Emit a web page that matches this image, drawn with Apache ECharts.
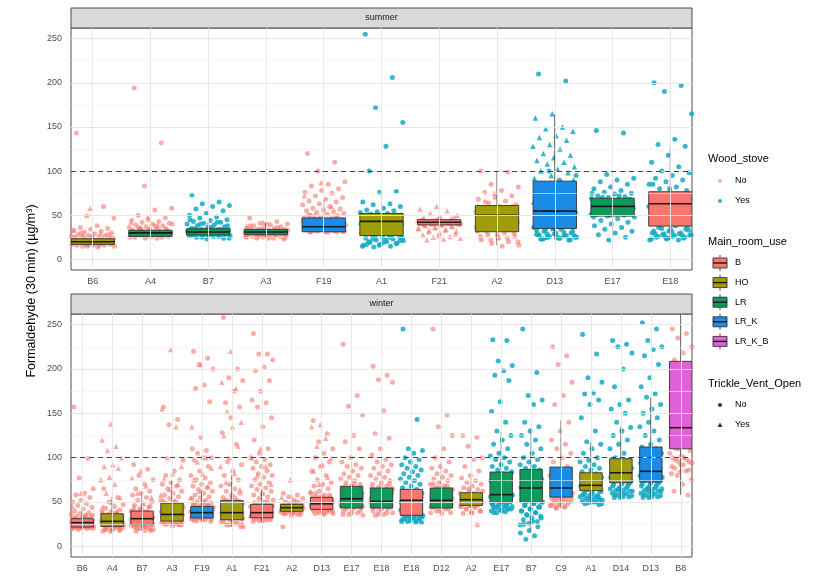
<!DOCTYPE html>
<html>
<head>
<meta charset="utf-8">
<script src="https://cdn.jsdelivr.net/npm/echarts@6/dist/echarts.min.js"></script>
<style>
  html, body { margin: 0; padding: 0; background: #fff; }
  #chart { width: 817px; height: 578px; }
</style>
</head>
<body>
<div id="chart"></div>
<script>
// ---------- summer panel ----------
const summerCats  = ['B6','A4','B7','A3','F19','A1','F21','A2','D13','E17','E18'];
const summerStove = ['No','No','Yes','No','No','Yes','No','No','Yes','Yes','Yes'];
const summerRoom  = ['HO','LR','LR','LR','LR_K','HO','B','HO','LR_K','LR','B'];
const summerLo  = [13, 22, 24, 24, 31, 14, 35, 16, 23, 24.5, 22];
const summerQ1  = [17, 26, 27.5, 28, 31.3, 27, 39, 31.3, 35, 49, 37.7];
const summerMed = [20, 30, 31, 31, 37, 43, 42, 50, 54.7, 60, 63];
const summerQ3  = [23.4, 33, 34.7, 34, 47, 52, 45, 61, 88.6, 69.3, 76.6];
const summerHi  = [31, 40, 42, 42, 68, 76.6, 50, 100, 164, 90.5, 128];
// readings with the trickle vent closed (circles) / open (triangles)
const summerVentNo = [
  [143,60,49,47,38,36,35,34,33,32,31,30,29,28,27,27,26,25,25,24,24,23,22,22,21,21,20,20,19,19,18,18,17,17,16,16,15,15,14,
   30,28,26,25,24,23,22,21,20,19,18,17,16,15,22,21,20,19,18,24],
  [194,132,83,58,56,50,47,45,44,43,42,41,40,39,38,37,36,35,34,33,33,32,31,31,30,30,29,29,28,28,27,27,26,26,25,25,24,
   40,38,36,35,34,33,32,31,30,29,28,27,26,25,24,35,32,30,28,26],
  [73,65,63,61,60,57,55,52,50,48,47,45,44,43,42,41,40,39,38,37,36,35,34,34,33,33,32,32,31,31,30,30,29,29,28,28,27,27,26,25,24,23,
   45,42,40,38,36,35,34,33,32,31,30,29,28,27,26,25,24,35,33,31,29,27],
  [47,43,41,40,39,38,37,36,35,35,34,34,33,33,32,32,31,31,30,30,29,29,28,28,27,27,26,26,25,25,24,24,23,
   40,38,36,34,33,32,31,30,29,28,27,26,25,24,33,30,28,26],
  [120,110,100,88,85,83,80,78,76,75,72,70,68,66,65,63,62,60,58,57,56,55,54,53,52,51,50,49,48,47,46,45,44,43,42,41,40,39,38,37,36,35,34,33,33,32,32,31,31,
   45,43,41,39,37,35,34,33,32,32,31,31,40,38,36,34,33,32,31,50,48,46],
  [255,206,172,155,128,100,77,76,65,63,62,60,58,56,55,54,53,52,51,50,48,46,44,42,40,38,36,34,32,30,28,27,26,25,24,23,22,21,20,19,18,17,16,15,14,
   50,48,46,44,42,40,38,36,34,32,30,28,26,24,22,20,18,16,15,25,23,21,19,17],
  [45,43,41,40],
  [100,99,85,82,78,76,72,70,68,66,64,62,60,58,56,55,54,52,50,48,47,46,45,44,42,40,38,36,34,32,30,28,26,24,22,20,18,16,15,
   65,60,55,52,50,48,46,44,42,40,38,36,34,32,30,28,26,24,22,20],
  [210,202,100,95,90,85,80,75,70,65,60,55,50,45,40,38,36,34,32,30,29,28,27,26,25,24,23,22,
   40,38,36,34,32,30,28,27,26,25,24,23,22,35,33,31,29,27,25,23],
  [146,143,96,92,90,88,85,82,80,78,76,75,74,72,71,70,69,68,67,66,65,64,63,62,61,60,59,58,57,56,55,54,53,52,51,50,49,48,46,44,42,40,38,36,34,32,30,28,25,22,
   75,72,70,68,66,64,62,60,58,56,54,52,50,48,65,63,61,59,57,55,53,51],
  [200,197,190,165,136,130,128,118,110,105,100,98,95,92,90,88,85,82,80,78,76,74,72,70,68,66,64,62,60,58,56,54,52,50,48,45,42,40,38,36,34,32,30,29,28,27,26,25,24,23,22,
   40,38,36,34,32,30,29,28,27,26,25,24,23,22,35,33,31,29,27,25,60,65,70,75,80,85]
];
const summerVentYes = [
  [58,33,30,28,26,23,21,19,17,16],
  [48,42,38,35,32,29,27],
  [],
  [42,38,33,29,26],
  [87,72,60,50,45,40,36,33],
  [],
  [60,57,55,52,50,48,47,46,45,44,43,43,42,42,41,41,40,40,39,38,37,36,35,34,33,32,30,28,26,25,24,23,22,
   48,46,44,43,42,41,40,39,38,36,35,33,31,29,27],
  [75,60,50,42,35,25],
  [165,160,150,148,145,140,138,135,130,128,125,120,118,115,112,110,108,105,102,100,98,95,92,88,85,80,75,70,65,60,55,50,45,40,35,30,27,25,
   90,85,80,75,70,65,60,55,50],
  [],
  []
];

// ---------- winter panel ----------
const winterCats  = ['B6','A4','B7','A3','F19','A1','F21','A2','D13','E17','E18','E18','D12','A2','E17','B7','C9','A1','D14','D13','B8'];
const winterStove = ['No','No','No','No','No','No','No','No','No','No','No','Yes','No','No','Yes','Yes','No','Yes','Yes','Yes','No'];
const winterRoom  = ['B','HO','B','HO','LR_K','HO','B','HO','B','LR','LR','B','LR','HO','LR','LR','LR_K','HO','HO','LR_K','LR_K_B'];
const winterLo  = [19.5, 17, 17.5, 24, 28, 22, 28, 35, 36, 35, 35, 27, 37, 37, 38, 16, 43, 47, 55, 55, 58];
const winterQ1  = [21.8, 22.5, 24.4, 28.5, 32, 30, 32.3, 39.5, 41.7, 43.2, 43.2, 35, 43.2, 46.2, 49.2, 49.2, 55.6, 62.8, 71.8, 72.5, 110];
const winterMed = [26.7, 28.2, 31.2, 36, 38, 38, 38, 43.6, 48, 53.7, 50.7, 51.9, 51.9, 52.6, 58.3, 65.8, 65.8, 68.8, 83, 84.6, 133.8];
const winterQ3  = [31.2, 36.8, 39.8, 48.8, 45, 51.8, 47.3, 47.3, 55.2, 67.6, 65.8, 64.3, 65.8, 60.5, 83.8, 86.8, 89.4, 83, 98.8, 112, 208.6];
const winterHi  = [40, 55.6, 61, 74.4, 64, 80, 64, 57.5, 72.5, 95, 97, 108, 95, 77, 129, 133, 142, 117.6, 134.5, 168, 270];
const winterVentNo = [
  [157,99,77,65,60,58,55,52,50,48,46,44,42,40,38,37,36,35,34,33,32,31,30,30,29,29,28,28,27,27,26,26,25,25,24,24,23,23,22,22,21,21,20,20,19,
   35,33,31,30,29,28,27,26,25,24,23,22,21,20,32,28,26,24,22],
  [65,55,50,47,45,43,41,39,37,36,35,34,33,32,31,30,29,28,27,26,25,24,23,22,21,20,19,18,17,
   40,38,36,34,32,30,28,26,24,22,20,19,18,17,33,29,27,25,23,21],
  [92,87,80,75,70,65,62,60,58,55,52,50,48,46,44,42,40,39,38,37,36,35,34,33,32,31,30,29,28,27,26,25,24,23,22,21,20,19,18,17,
   45,42,40,38,36,34,32,30,28,26,24,22,20,18,35,31,29,27,25,23],
  [157,143,137,97,85,80,75,72,70,68,65,62,60,58,56,54,52,50,48,46,44,42,40,38,36,34,32,30,28,27,26,25,24,23,
   50,48,46,44,42,40,38,36,34,32,30,28,26,25,24,45,39,35,31,29],
  [220,212,205,200,182,178,163,123,110,108,105,100,100,97,90,85,80,77,75,72,70,68,66,64,62,60,58,56,55,54,52,50,49,48,47,46,45,44,43,42,41,40,39,38,37,36,35,34,33,32,31,30,29,28,
   50,48,46,44,42,40,38,36,35,34,33,32,31,30,29,45,41,39,37,35,33],
  [258,200,190,187,175,162,157,145,128,115,95,92,85,80,75,70,68,65,62,60,58,55,52,50,48,46,44,42,40,38,36,34,32,30,28,26,24,22,
   55,52,50,48,45,42,40,38,36,34,32,30,28,26,24,22,47,43,39,35,31],
  [240,217,217,210,202,198,187,175,165,162,157,145,135,120,110,105,100,98,95,92,90,88,85,82,80,78,75,72,70,68,66,64,62,60,58,56,54,52,50,48,46,44,42,40,39,38,37,36,35,34,33,32,31,30,29,28,
   50,48,46,44,42,40,38,36,35,34,33,32,31,30,29,45,41,39,37,35],
  [60,58,56,54,52,50,49,48,47,46,45,44,43,42,41,40,39,38,37,36,35,22,
   50,48,47,46,45,44,43,42,41,40,39,38,37,36,44,43,42],
  [142,127,118,110,105,100,95,90,85,80,75,72,70,68,65,62,60,58,56,55,54,53,52,51,50,49,48,47,46,45,44,43,42,41,40,39,38,37,36,
   60,58,56,55,54,53,52,51,50,49,48,47,46,45,44,43,42,41,40,39,38,37],
  [228,170,158,148,125,118,110,100,95,92,90,88,85,82,80,78,76,74,72,70,68,66,64,62,60,58,56,54,52,50,48,46,44,42,40,38,36,35,
   70,68,66,64,62,60,58,56,54,52,50,48,46,44,42,40,38,36,65,55,45],
  [203,193,188,185,153,127,122,110,103,98,95,92,90,88,85,82,80,78,76,74,72,70,68,66,64,62,60,58,56,54,52,50,48,46,44,42,40,38,36,35,
   70,68,66,64,62,60,58,56,54,52,50,48,46,44,42,40,38,36,65,55,45],
  [245,143,110,108,105,100,98,95,92,90,88,86,84,82,80,78,76,74,72,70,68,66,64,62,60,58,56,54,52,50,48,46,44,42,40,38,36,35,34,33,32,31,30,29,28,27,
   45,44,43,42,41,40,39,38,37,36,35,34,33,32,31,30,29,28,27,50,55,60],
  [245,148,135,125,110,100,95,90,88,85,82,80,78,76,74,72,70,68,66,64,62,60,58,56,54,52,50,48,46,44,42,40,38,37,
   70,68,66,64,62,60,58,56,54,52,50,48,46,44,42,40,38,65,55,45],
  [125,123,113,100,98,90,85,80,77,74,72,70,68,66,64,62,60,58,56,55,54,53,52,51,50,49,48,47,46,45,44,42,40,38,37,24,
   65,62,60,58,56,54,53,52,51,50,49,48,47,46,45,44,42,40,38],
  [233,232,209,204,198,193,187,163,152,140,130,125,120,115,110,105,102,100,98,95,92,90,88,86,84,82,80,78,76,74,72,70,68,66,64,62,60,58,56,54,52,50,48,46,44,42,40,38,
   60,58,56,54,52,50,49,48,47,46,45,44,43,42,41,40,39,38,55,50,45,42],
  [245,196,170,165,160,140,135,130,125,120,115,110,105,100,98,95,92,90,88,86,84,82,80,78,76,74,72,70,68,66,64,62,60,58,56,54,52,50,48,46,44,42,40,38,35,32,28,25,22,18,15,12,8,
   60,58,56,54,52,50,48,46,44,42,40,38,36,34,32,30,28,26,24,55,50,45],
  [225,215,205,185,170,160,140,130,120,115,110,105,100,95,90,85,80,75,70,66,62,60,58,56,55,54,52,50,48,46,44,43,
   70,68,66,64,62,60,58,57,56,55,54,53,52,51,50,49,48,47,46,45,44],
  [239,217,190,185,173,172,165,160,145,130,118,115,110,105,100,97,95,92,90,88,86,84,82,80,78,76,74,72,70,68,66,64,62,60,58,56,54,52,50,48,47,
   70,68,66,64,62,60,59,58,57,56,55,54,53,52,51,50,49,48,65,60,55],
  [232,228,225,218,200,180,165,160,155,150,140,134,130,125,120,115,110,105,100,98,96,94,92,90,88,86,84,82,80,78,76,74,72,70,68,66,64,62,60,58,56,55,
   80,78,76,74,72,70,68,66,65,64,63,62,61,60,59,58,57,56,55,70,65],
  [252,245,232,225,222,215,205,190,180,172,168,160,155,150,145,140,135,130,125,120,115,112,110,108,105,102,100,98,96,94,92,90,88,86,84,82,80,78,76,74,72,70,68,66,64,62,60,58,56,55,
   80,78,76,74,72,70,68,66,65,64,63,62,61,60,59,58,57,56,55,70,65],
  [245,240,235,225,218,210,200,190,180,170,160,150,140,130,120,110,105,100,98,95,92,90,85,80,75,70,62,58,
   130,125,115,110,108,102,100,98,96,94,92,88,86,84,82]
];
const winterVentYes = [
  [60,45,35,30,27,24,22],
  [138,120,113,108,100,92,90,88,78,75,70,60,55,50,45,40,35,30,25,20],
  [85,77,68,60,55,48,44,40,36,32,28,24,20],
  [222,155,135,100,90,82,76,70,64,58,52,46,40,35,30,26],
  [205,135,100,95,88,82,75,68,62,55,50,45,40,36,32],
  [220,185,178,152,140,135,125,113,100,90,82,72,64,56,48,40,33,27],
  [110,100,90,80,70,60,50,45,40,35,30],
  [75,55,50,45,42,40,38],
  [137,135,122,113,100,92,85,78,70,62,55,48,42],
  [],[],[],[],[],[],[],[],[],[],[],[]
];

// shared scale pieces
const yTicks = [0, 50, 100, 150, 200, 250];
const yMinor = [25, 75, 125, 175, 225];
const guideline = 100;
const roomNames = ['B', 'HO', 'LR', 'LR_K', 'LR_K_B'];
const roomColors = { B: '#F8766D', HO: '#A09C0A', LR: '#0E9A5A', LR_K: '#1C8BE3', LR_K_B: '#E062D8' };
const stoveColors = { No: '#F8766D', Yes: '#14A9C4' };

const Y_MIN = -12, Y_MAX = 262, HALF = 0.375;
const panels = [
  { name: 'summer', top: 28, height: 242, cats: summerCats, stove: summerStove, room: summerRoom,
    lo: summerLo, q1: summerQ1, med: summerMed, q3: summerQ3, hi: summerHi, no: summerVentNo, yes: summerVentYes },
  { name: 'winter', top: 314, height: 243, cats: winterCats, stove: winterStove, room: winterRoom,
    lo: winterLo, q1: winterQ1, med: winterMed, q3: winterQ3, hi: winterHi, no: winterVentNo, yes: winterVentYes }
];
const GRID_LEFT = 71, GRID_W = 621;
const font = 'Liberation Sans, Arial, sans-serif';

// spread points sideways inside each category (low-discrepancy sequence)
function spread(k, shift) {
  const f = (k * 0.618034 + shift) % 1;
  return (f - 0.5) * 0.76;
}

const grids = [], xAxes = [], yAxes = [], series = [], graphics = [];

panels.forEach((p, g) => {
  const n = p.cats.length;
  grids.push({ left: GRID_LEFT, top: p.top, width: GRID_W, height: p.height,
    show: true, borderColor: '#4d4d4d', borderWidth: 1, backgroundColor: 'transparent' });
  xAxes.push({
    type: 'value', gridIndex: g, min: -HALF, max: n - 1 + HALF,
    axisLine: { show: false }, splitLine: { show: false },
    axisTick: { show: true, customValues: p.cats.map((_, i) => i), length: 3, lineStyle: { color: '#4d4d4d' } },
    axisLabel: { customValues: p.cats.map((_, i) => i), formatter: v => p.cats[Math.round(v)],
      color: '#4D4D4D', fontSize: 9, margin: 7, fontFamily: font }
  });
  yAxes.push({
    type: 'value', gridIndex: g, min: Y_MIN, max: Y_MAX,
    axisLine: { show: false }, splitLine: { show: false },
    axisTick: { show: true, customValues: yTicks, length: 3, lineStyle: { color: '#4d4d4d' } },
    axisLabel: { customValues: yTicks, color: '#4D4D4D', fontSize: 9, margin: 9, fontFamily: font }
  });

  // panel grid lines
  series.push({
    type: 'line', xAxisIndex: g, yAxisIndex: g, data: [], z: 1, silent: true,
    markLine: {
      silent: true, symbol: ['none', 'none'], label: { show: false }, animation: false,
      data: [
        ...yMinor.map(v => ({ yAxis: v, lineStyle: { color: '#F3F3F3', width: 0.6, type: 'solid' } })),
        ...yTicks.map(v => ({ yAxis: v, lineStyle: { color: '#E6E6E6', width: 0.9, type: 'solid' } })),
        ...p.cats.map((_, i) => ({ xAxis: i, lineStyle: { color: '#E6E6E6', width: 0.9, type: 'solid' } }))
      ]
    }
  });

  // jittered readings: stove colour x vent shape
  ['No', 'Yes'].forEach((st) => {
    [['circle', p.no], ['triangle', p.yes]].forEach(([shape, sets], hi) => {
      const pts = [];
      sets.forEach((vals, i) => {
        if (p.stove[i] !== st) return;
        vals.forEach((v, k) => pts.push([i + spread(k, hi * 0.31 + 0.13), v]));
      });
      series.push({
        type: 'scatter', xAxisIndex: g, yAxisIndex: g, z: 2, silent: true,
        symbol: shape, symbolSize: shape === 'circle' ? 5 : 5.5,
        itemStyle: { color: stoveColors[st], opacity: st === 'No' ? 0.6 : 0.85 },
        data: pts
      });
    });
  });

  // boxes
  series.push({
    type: 'custom', xAxisIndex: g, yAxisIndex: g, z: 3, clip: true, silent: true,
    data: p.cats.map((_, i) => [i, p.lo[i], p.q1[i], p.med[i], p.q3[i], p.hi[i]]),
    renderItem: (params, api) => {
      const i = api.value(0);
      const lo = api.coord([i, api.value(1)]);
      const q1 = api.coord([i, api.value(2)]);
      const md = api.coord([i, api.value(3)]);
      const q3 = api.coord([i, api.value(4)]);
      const hi = api.coord([i, api.value(5)]);
      const w = api.size([0.75, 0])[0];
      const x = md[0];
      const col = roomColors[p.room[params.dataIndex]];
      const ln = { stroke: '#333', lineWidth: 0.9 };
      return { type: 'group', children: [
        { type: 'line', shape: { x1: x, y1: hi[1], x2: x, y2: q3[1] }, style: ln },
        { type: 'line', shape: { x1: x, y1: q1[1], x2: x, y2: lo[1] }, style: ln },
        { type: 'rect', shape: { x: x - w / 2, y: q3[1], width: w, height: q1[1] - q3[1] },
          style: { fill: col, stroke: '#333', lineWidth: 0.9 } },
        { type: 'line', shape: { x1: x - w / 2, y1: md[1], x2: x + w / 2, y2: md[1] },
          style: { stroke: '#1a1a1a', lineWidth: 1.6 } }
      ]};
    }
  });

  // guideline at 100
  series.push({
    type: 'line', xAxisIndex: g, yAxisIndex: g, data: [], z: 4, silent: true,
    markLine: { silent: true, symbol: ['none', 'none'], label: { show: false }, animation: false,
      data: [{ yAxis: guideline, lineStyle: { color: '#444', width: 1, type: [5, 4] } }] }
  });

  // facet strip
  graphics.push({ type: 'rect', shape: { x: GRID_LEFT, y: p.top - 20, width: GRID_W, height: 20 },
    style: { fill: '#D9D9D9', stroke: '#4d4d4d', lineWidth: 1 } });
  graphics.push({ type: 'text', x: GRID_LEFT + GRID_W / 2, y: p.top - 10,
    style: { text: p.name, fill: '#1A1A1A', fontSize: 9, align: 'center', verticalAlign: 'middle', fontFamily: font } });
});

// y-axis title
graphics.push({ type: 'text', x: 32, y: 291, rotation: Math.PI / 2,
  style: { text: 'Formaldehyde (30 min) (µg/m³)', fill: '#000', fontSize: 12.5, align: 'center',
    verticalAlign: 'middle', fontFamily: font } });

// legends
const LX = 708;
function title(t, y) {
  graphics.push({ type: 'text', x: LX, y, style: { text: t, fill: '#000', fontSize: 11,
    verticalAlign: 'middle', fontFamily: font } });
}
function label(t, y) {
  graphics.push({ type: 'text', x: 735, y, style: { text: t, fill: '#000', fontSize: 9,
    verticalAlign: 'middle', fontFamily: font } });
}
title('Wood_stove', 159);
['No', 'Yes'].forEach((s, i) => {
  const y = 181 + i * 20;
  graphics.push({ type: 'circle', shape: { cx: 720, cy: y, r: 2 },
    style: { fill: stoveColors[s], opacity: s === 'No' ? 0.6 : 0.9 } });
  label(s, y);
});
title('Main_room_use', 242);
roomNames.forEach((r, i) => {
  const y = 263 + i * 19.6;
  graphics.push({ type: 'line', shape: { x1: 720, y1: y - 8, x2: 720, y2: y + 8 }, style: { stroke: '#333', lineWidth: 0.9 } });
  graphics.push({ type: 'rect', shape: { x: 713, y: y - 5, width: 14, height: 10 },
    style: { fill: roomColors[r], stroke: '#333', lineWidth: 0.9 } });
  graphics.push({ type: 'line', shape: { x1: 713, y1: y, x2: 727, y2: y }, style: { stroke: '#1a1a1a', lineWidth: 1.4 } });
  label(r, y);
});
title('Trickle_Vent_Open', 384);
graphics.push({ type: 'circle', shape: { cx: 720, cy: 405, r: 2 }, style: { fill: '#333' } });
label('No', 405);
graphics.push({ type: 'polygon', shape: { points: [[720, 422.5], [717.5, 427], [722.5, 427]] }, style: { fill: '#333' } });
label('Yes', 425);

const chart = echarts.init(document.getElementById('chart'), null, { renderer: 'canvas' });
chart.setOption({
  animation: false,
  grid: grids, xAxis: xAxes, yAxis: yAxes, series,
  graphic: { elements: graphics }
});
</script>
</body>
</html>
